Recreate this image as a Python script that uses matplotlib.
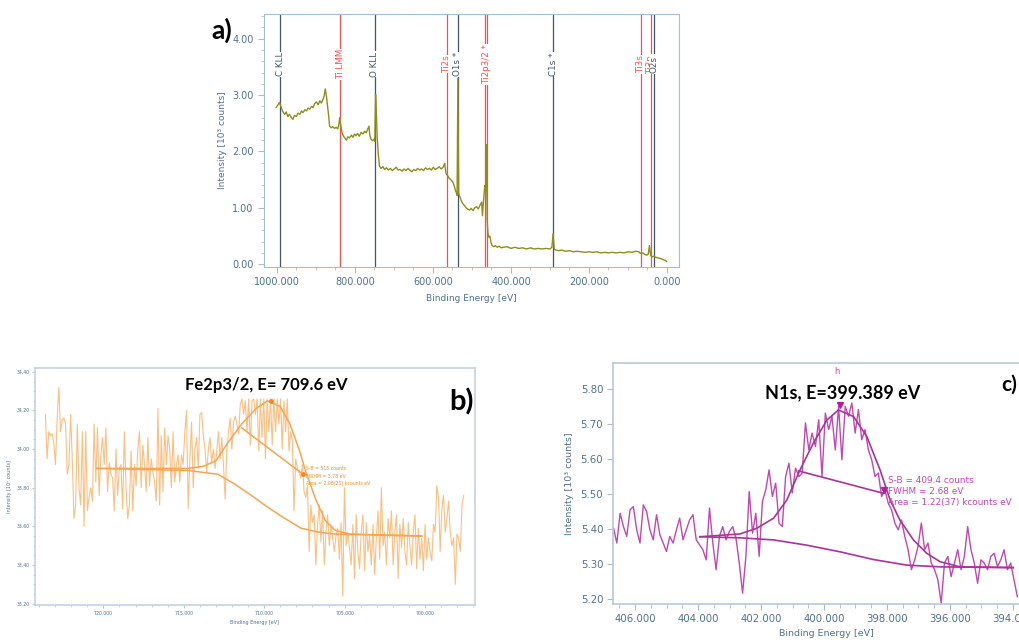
import numpy as np
import matplotlib.pyplot as plt
from matplotlib.ticker import MultipleLocator, FormatStrFormatter
from matplotlib import font_manager

# ---------------- a) survey spectrum ----------------
survey_be = [1002, 998, 993, 989, 985, 980, 976, 972, 968, 963, 959, 955, 950, 946, 941, 937,
             933, 928, 924, 920, 916, 911, 907, 903, 899, 894, 890, 886, 882, 879, 876, 873,
             870, 867, 865, 861, 857, 852, 848, 844, 841, 839, 836, 833, 829, 825, 822, 818,
             814, 809, 805, 801, 797, 793, 789, 784, 779, 775, 771, 767, 764, 762, 759, 755,
             751, 749, 747, 745, 743, 740, 737, 733, 728, 724, 719, 714, 709, 704, 699, 694,
             689, 684, 679, 674, 669, 664, 659, 654, 649, 644, 639, 634, 629, 624, 619, 614,
             609, 604, 599, 594, 589, 584, 579, 574, 570, 566, 562, 558, 554, 549, 545, 542,
             540, 538, 536, 534, 531, 527, 523, 519, 515, 511, 506, 502, 497, 493, 488, 484,
             479, 475, 473, 470, 467, 465, 463, 461, 459, 457, 454, 451, 448, 444, 440, 435,
             430, 425, 420, 410, 400, 390, 380, 370, 360, 350, 340, 330, 320, 310, 300, 295,
             292, 289, 285, 278, 270, 260, 250, 240, 230, 220, 210, 200, 190, 180, 170, 160,
             150, 140, 130, 120, 110, 100, 90, 80, 72, 68, 62, 56, 52, 48, 45, 42,
             39, 34, 28, 22, 16, 10, 5, 1]
survey_int = [2.78, 2.82, 2.87, 2.78, 2.71, 2.66, 2.70, 2.62, 2.66, 2.60, 2.57, 2.64, 2.62, 2.68, 2.66, 2.72,
              2.69, 2.74, 2.72, 2.77, 2.75, 2.80, 2.78, 2.85, 2.88, 2.83, 2.90, 2.86, 2.92, 2.98, 3.11, 2.98,
              2.80, 2.62, 2.45, 2.42, 2.44, 2.41, 2.43, 2.40, 2.48, 2.60, 2.45, 2.33, 2.27, 2.23, 2.20, 2.26,
              2.24, 2.29, 2.25, 2.31, 2.28, 2.32, 2.27, 2.34, 2.31, 2.36, 2.33, 2.40, 2.45, 2.30, 2.22, 2.19,
              2.22, 2.18, 3.01, 2.70, 2.27, 1.95, 1.74, 1.70, 1.73, 1.68, 1.71, 1.67, 1.70, 1.66, 1.69, 1.72,
              1.67, 1.68, 1.65, 1.69, 1.66, 1.70, 1.67, 1.64, 1.68, 1.66, 1.70, 1.67, 1.69, 1.66, 1.71, 1.68,
              1.70, 1.67, 1.72, 1.68, 1.70, 1.73, 1.69, 1.72, 1.79, 1.60, 1.57, 1.52, 1.50, 1.46, 1.38, 1.30,
              1.27, 1.22, 3.30, 1.25, 1.20, 1.12, 1.07, 1.04, 1.00, 0.98, 0.96, 0.99, 0.95, 1.00, 1.02, 0.98,
              1.05, 1.10, 0.86, 1.15, 1.40, 1.30, 2.12, 0.80, 0.55, 0.48, 0.50, 0.38, 0.33, 0.31, 0.33, 0.30,
              0.32, 0.29, 0.30, 0.31, 0.28, 0.30, 0.28, 0.29, 0.27, 0.29, 0.27, 0.28, 0.27, 0.28, 0.27, 0.30,
              0.54, 0.27, 0.25, 0.24, 0.25, 0.23, 0.24, 0.22, 0.23, 0.22, 0.21, 0.22, 0.21, 0.22, 0.20, 0.21,
              0.20, 0.21, 0.20, 0.21, 0.20, 0.22, 0.21, 0.23, 0.22, 0.19, 0.20, 0.17, 0.16, 0.18, 0.33, 0.16,
              0.13, 0.14, 0.12, 0.11, 0.10, 0.08, 0.07, 0.05]

line_names = ['C KLL', 'Ti LMM', 'O KLL', 'Ti2s', 'O1s *', 'Ti2p3/2 *', 'C1s *', 'Ti3s', 'Ti3p', 'O2s']
line_be = [992, 838, 749, 564, 536, 462, 292, 67, 41, 33]
line_ti = [False, True, False, True, False, True, False, True, True, False]
extra_ti_be = [467]

# ---------------- b) Fe2p3/2 ----------------
fe_int = [34.18, 33.95, 34.09, 34.07, 34.08, 34.03, 33.92, 34.16, 34.32, 34.09,
          34.15, 34.16, 34.13, 33.87, 33.92, 34.18, 33.95, 33.64, 33.71, 34.13,
          33.80, 33.71, 34.09, 33.60, 34.09, 33.68, 33.75, 33.80, 33.73, 34.13,
          33.83, 34.11, 33.76, 33.97, 34.06, 33.92, 34.11, 33.78, 33.93, 33.87,
          33.85, 33.68, 34.00, 33.76, 33.90, 33.92, 33.69, 34.09, 33.80, 33.64,
          33.71, 33.99, 33.68, 33.92, 33.81, 34.00, 34.09, 33.80, 34.02, 33.92,
          33.78, 34.06, 33.81, 33.95, 33.88, 33.83, 33.73, 34.21, 33.71, 34.07,
          33.78, 34.11, 33.92, 34.07, 34.00, 33.80, 34.09, 33.83, 33.92, 33.97,
          33.83, 33.97, 33.92, 34.09, 34.20, 33.69, 33.95, 34.14, 33.80, 34.00,
          34.06, 33.90, 34.18, 34.19, 34.07, 34.00, 33.88, 34.00, 34.06, 33.93,
          34.00, 33.90, 33.99, 34.09, 33.95, 34.06, 33.92, 33.74, 33.99, 34.09,
          34.16, 34.00, 34.14, 34.17, 34.13, 34.08, 34.23, 34.26, 34.18, 34.25,
          34.09, 34.26, 34.02, 34.25, 34.26,
          34.18, 34.26, 33.99, 34.26, 34.06, 34.26, 33.95, 34.26, 34.09, 34.26,
          34.02, 34.26, 34.09, 34.26, 34.13, 34.26, 34.00, 34.25, 34.09, 34.26,
          33.99, 34.09, 34.04, 33.68, 33.95, 33.90, 33.88, 33.85, 33.92, 33.78,
          33.75, 33.81, 33.47, 33.71, 33.62, 33.66, 33.40, 33.61, 33.71, 33.52,
          33.68, 33.40, 33.57, 33.66, 33.50, 33.61, 33.54, 33.47, 33.55, 33.59,
          33.43, 33.62, 33.24, 33.80, 33.50, 33.57, 33.49, 33.40, 33.61, 33.33,
          33.66, 33.47, 33.38, 33.57, 33.66, 33.37, 33.62, 33.47, 33.55, 33.40,
          33.61, 33.35, 33.54, 33.68, 33.43, 33.80, 33.50, 33.57, 33.40, 33.64,
          33.54, 33.68, 33.40, 33.57, 33.66, 33.33, 33.61, 33.49, 33.64, 33.47,
          33.40, 33.62, 33.50, 33.40, 33.57, 33.66, 33.38, 33.59, 33.43, 33.54,
          33.37, 33.61, 33.43, 33.54, 33.47, 33.42, 33.61, 33.57, 33.81, 33.75,
          33.47, 33.69, 33.76, 33.57, 33.64, 33.73, 33.57, 33.50, 33.54, 33.30,
          33.56, 33.54, 33.47, 33.71, 33.76]
fe_be = np.linspace(723.6, 697.6, len(fe_int))

fe_env_be = [720.4, 714.8, 713.8, 713.0, 712.2, 711.4, 710.5, 709.8, 709.0, 708.4,
             707.8, 707.4, 706.8, 706.2, 705.6, 704.7, 700.2]
fe_env_int = [33.90, 33.90, 33.91, 33.94, 34.04, 34.13, 34.21, 34.25, 34.22, 34.13,
              33.99, 33.88, 33.74, 33.63, 33.58, 33.56, 33.55]
fe_bg_be = [720.4, 714.8, 712.9, 711.85, 710.8, 709.8, 708.7, 707.7, 706.6, 705.6, 700.2]
fe_bg_int = [33.90, 33.89, 33.87, 33.82, 33.76, 33.70, 33.64, 33.59, 33.57, 33.56, 33.55]
fe_fwhm_be = [711.4, 707.6]
fe_fwhm_int = [34.11, 33.87]
fe_peak = (709.6, 34.25)

# ---------------- c) N1s ----------------
n_int = [5.398, 5.403, 5.360, 5.445, 5.407, 5.379, 5.455, 5.464, 5.398, 5.360,
         5.469, 5.450, 5.398, 5.369, 5.441, 5.384, 5.360, 5.336, 5.379, 5.360,
         5.398, 5.431, 5.369, 5.398, 5.426, 5.441, 5.369, 5.355, 5.341, 5.312,
         5.460, 5.360, 5.284, 5.379, 5.407, 5.369, 5.393, 5.407, 5.374, 5.303,
         5.217, 5.322, 5.507, 5.388, 5.445, 5.322, 5.479, 5.512, 5.569, 5.493,
         5.531, 5.417, 5.407, 5.550, 5.588, 5.503, 5.574, 5.550, 5.560, 5.703,
         5.626, 5.674,
         5.636, 5.712, 5.550, 5.731, 5.684, 5.722, 5.626, 5.750, 5.598, 5.750,
         5.722, 5.760, 5.674, 5.741, 5.655, 5.684, 5.626, 5.598, 5.550, 5.560,
         5.493, 5.512, 5.474, 5.455, 5.417, 5.398, 5.426, 5.379, 5.341, 5.284,
         5.312, 5.350, 5.417, 5.341, 5.360, 5.303, 5.284, 5.255, 5.188, 5.303,
         5.322, 5.264, 5.303, 5.341, 5.284, 5.322, 5.407, 5.341, 5.303, 5.245,
         5.312, 5.303, 5.284, 5.322, 5.331, 5.293, 5.312, 5.341, 5.284, 5.303,
         5.255, 5.207]
n_be = np.linspace(406.79, 393.86, len(n_int))

n_env_be = [403.94, 402.67, 402.14, 401.6, 401.18, 400.76, 400.34, 399.91, 399.54, 399.06,
            398.64, 398.22, 397.90, 397.59, 397.16, 396.74, 396.32, 395.68, 393.99]
n_env_int = [5.378, 5.386, 5.402, 5.431, 5.483, 5.569, 5.645, 5.711, 5.740, 5.721,
             5.664, 5.569, 5.483, 5.426, 5.369, 5.331, 5.307, 5.292, 5.290]
n_bg_be = [403.94, 402.67, 401.6, 400.55, 399.49, 398.43, 397.37, 396.3, 393.99]
n_bg_int = [5.378, 5.375, 5.369, 5.354, 5.335, 5.313, 5.297, 5.292, 5.290]
n_fwhm_be = [400.81, 398.11]
n_fwhm_int = [5.566, 5.502]
n_peak = (399.5, 5.754)

# narrow bold face for the Fe title if available, else Lato
installed = {f.name for f in font_manager.fontManager.ttflist}
title_font = ['Lato', 'DejaVu Sans']
if 'Liberation Sans Narrow' in installed:
    fe_font, fe_size = ['Liberation Sans Narrow', 'DejaVu Sans'], 14
else:
    fe_font, fe_size = title_font, 12
spine_col = '#a9bccb'
tick_col = '#4f7191'

fig = plt.figure(figsize=(10.19, 6.44), dpi=100)

# ---- panel a ----
ax = fig.add_axes([0.2591, 0.5854, 0.4073, 0.3929])
for be, name, ti in zip(line_be, line_names, line_ti):
    col = '#ff4a4a' if ti else '#3f566b'
    ax.axvline(be, color=col, lw=0.9, zorder=1)
    ax.text(be, 3.55, name, rotation=90, ha='center', va='center', color=col,
            fontsize=6.3, zorder=4, bbox=dict(fc='white', ec='none', pad=0.3))
for be in extra_ti_be:
    ax.axvline(be, color='#ff4a4a', lw=0.9, zorder=1)
ax.plot(survey_be, survey_int, color='#8e8e1c', lw=1.0, zorder=3)
ax.set_xlim(1033, -31)
ax.set_ylim(-0.05, 4.44)
ax.xaxis.set_major_locator(MultipleLocator(200))
ax.xaxis.set_minor_locator(MultipleLocator(50))
ax.yaxis.set_major_locator(MultipleLocator(1))
ax.yaxis.set_minor_locator(MultipleLocator(0.2))
ax.xaxis.set_major_formatter(FormatStrFormatter('%.3f'))
ax.yaxis.set_major_formatter(FormatStrFormatter('%.2f'))
ax.tick_params(which='both', colors=spine_col, labelcolor=tick_col, labelsize=7)
ax.tick_params(which='major', length=4)
ax.tick_params(which='minor', length=2.5)
for s in ax.spines.values():
    s.set_color(spine_col)
ax.set_xlabel('Binding Energy [eV]', fontsize=6.5, color=tick_col, labelpad=5)
ax.set_ylabel('Intensity [10³ counts]', fontsize=6.5, color=tick_col, labelpad=4)
fig.text(0.218, 0.953, 'a)', fontsize=19, fontweight='bold', ha='center', va='center',
         family=title_font)

# ---- panel b ----
bx = fig.add_axes([0.0343, 0.0606, 0.4318, 0.368])
bx.plot(fe_be, fe_int, color='#ffbd80', lw=0.8)
bx.plot(fe_bg_be, fe_bg_int, color='#f7a453', lw=1.1)
bx.plot(fe_env_be, fe_env_int, color='#f7a453', lw=1.1)
bx.plot(fe_fwhm_be, fe_fwhm_int, color='#f7a453', lw=1.1)
bx.plot([fe_fwhm_be[1]], [fe_fwhm_int[1]], 'o', color='#f08a20', ms=2.5)
bx.plot([fe_peak[0]], [fe_peak[1]], 'o', color='#f08a20', ms=2.5)
bx.text(707.4, 33.91, 'S-B = 515 counts\nFWHM = 3.78 eV\nArea = 2.08(21) kcounts eV',
        fontsize=3.3, color='#f08a20', va='top', linespacing=1.6)
bx.set_xlim(724.25, 696.9)
bx.set_ylim(33.193, 34.42)
bx.xaxis.set_major_locator(MultipleLocator(5))
bx.xaxis.set_minor_locator(MultipleLocator(1))
bx.yaxis.set_major_locator(MultipleLocator(0.2))
bx.yaxis.set_minor_locator(MultipleLocator(0.05))
bx.xaxis.set_major_formatter(FormatStrFormatter('%.3f'))
bx.yaxis.set_major_formatter(FormatStrFormatter('%.2f'))
bx.tick_params(which='both', colors='#b8c8d6', labelcolor=tick_col, labelsize=3.3, pad=1.5)
bx.tick_params(which='major', length=2.5)
bx.tick_params(which='minor', length=1.5)
for s in bx.spines.values():
    s.set_color('#c4d2de')
    s.set_linewidth(1.2)
bx.set_xlabel('Binding Energy [eV]', fontsize=3.5, color=tick_col, labelpad=3)
bx.set_ylabel('Intensity [10³ counts]', fontsize=3.5, color=tick_col, labelpad=3)
fig.text(0.261, 0.402, 'Fe2p3/2, E= 709.6 eV', fontsize=fe_size, fontweight='bold',
         ha='center', va='center', family=fe_font)
fig.text(0.4525, 0.376, 'b)', fontsize=21, fontweight='bold', ha='center', va='center',
         family=title_font)

# ---- panel c ----
cx = fig.add_axes([0.6016, 0.0621, 0.419, 0.3742])
cx.plot(n_be, n_int, color='#c445b4', lw=1.0)
cx.plot(n_bg_be, n_bg_int, color='#a8339a', lw=1.2)
cx.plot(n_env_be, n_env_int, color='#a8339a', lw=1.2)
cx.plot(n_fwhm_be, n_fwhm_int, color='#a8339a', lw=1.2)
cx.plot([n_fwhm_be[1]], [n_fwhm_int[1] + 0.01], 'v', color='#b0209f', ms=5)
cx.plot([n_peak[0]], [n_peak[1]], 'v', color='#b0209f', ms=5)
cx.text(399.6, 5.85, 'h', fontsize=6, color='#c445b4', ha='center', va='center')
cx.text(397.96, 5.552, 'S-B = 409.4 counts\nFWHM = 2.68 eV\nArea = 1.22(37) kcounts eV',
        fontsize=6.4, color='#c445b4', va='top', linespacing=1.3)
cx.set_xlim(406.7, 393.14)
cx.set_ylim(5.186, 5.874)
cx.xaxis.set_major_locator(MultipleLocator(2))
cx.xaxis.set_minor_locator(MultipleLocator(0.5))
cx.yaxis.set_major_locator(MultipleLocator(0.1))
cx.xaxis.set_major_formatter(FormatStrFormatter('%.3f'))
cx.yaxis.set_major_formatter(FormatStrFormatter('%.2f'))
cx.tick_params(which='both', colors=spine_col, labelcolor=tick_col, labelsize=7.3, pad=3)
cx.tick_params(which='major', length=4)
cx.tick_params(which='minor', length=3)
for s in cx.spines.values():
    s.set_color('#b8c8d6')
    s.set_linewidth(1.2)
cx.set_xlabel('Binding Energy [eV]', fontsize=6.8, color=tick_col, labelpad=4)
cx.set_ylabel('Intensity [10³ counts]', fontsize=6.8, color=tick_col, labelpad=5)
fig.text(0.827, 0.39, 'N1s, E=399.389 eV', fontsize=13, fontweight='bold', ha='center',
         va='center', family=title_font)
fig.text(0.983, 0.402, 'c)', fontsize=15, fontweight='bold', ha='left', va='center',
         family=title_font)

fig.savefig('out.png', dpi=100)
